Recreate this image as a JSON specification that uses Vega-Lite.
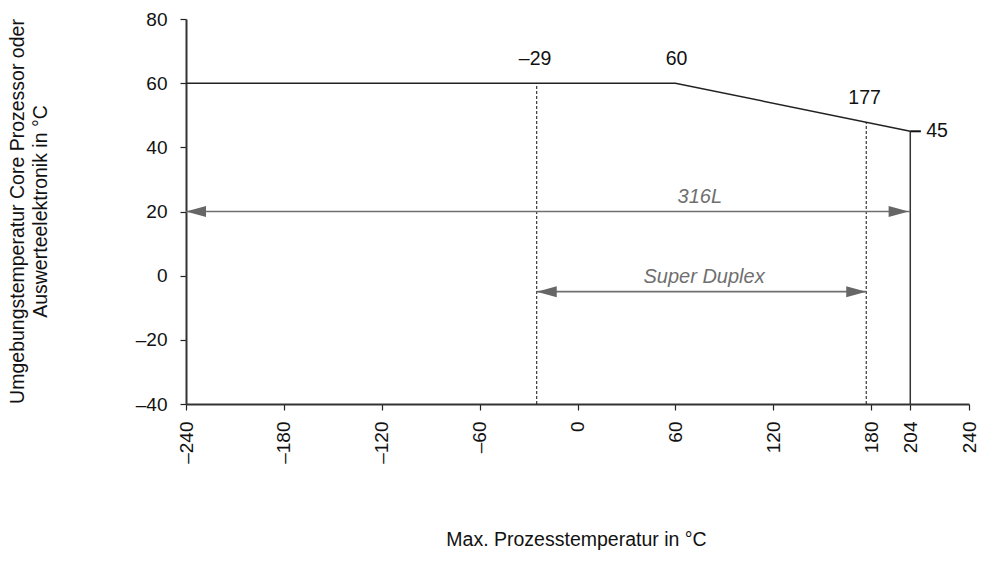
{
  "$schema": "https://vega.github.io/schema/vega-lite/v6.json",
  "width": 783,
  "height": 385,
  "autosize": "none",
  "padding": {"left": 186, "top": 19, "right": 17, "bottom": 172},
  "config": {
    "font": "Liberation Sans",
    "view": {"stroke": null},
    "axis": {
      "grid": false,
      "domainColor": "#333",
      "domainWidth": 2,
      "tickColor": "#222",
      "tickWidth": 1.2,
      "tickSize": 6,
      "labelFontSize": 19,
      "labelColor": "#111",
      "titleFontSize": 19.5,
      "titleFontWeight": "normal",
      "titleColor": "#111",
      "labelFont": "Liberation Sans",
      "titleFont": "Liberation Sans"
    }
  },
  "datasets": {
    "limit": [
      {"x": -240, "y": 60, "o": 1},
      {"x": 60, "y": 60, "o": 2},
      {"x": 204, "y": 45, "o": 3}
    ],
    "verticals": [
      {"x": -25, "y0": -40, "y1": 60, "style": "dashed"},
      {"x": 177, "y0": -40, "y1": 47.8, "style": "dashed"},
      {"x": 204, "y0": -40, "y1": 45, "style": "solid"}
    ],
    "ticks45": [
      {"x": 204, "x2": 210.5, "y": 45}
    ],
    "arrows": [
      {"name": "316L", "x1": -240, "x2": 204, "y": 20, "lx": 75},
      {"name": "Super Duplex", "x1": -25, "x2": 177, "y": -5, "lx": 77.6}
    ],
    "heads": [
      {"x": -240, "y": 20, "dir": "left"},
      {"x": 203, "y": 20, "dir": "right"},
      {"x": -25, "y": -5, "dir": "left"},
      {"x": 177, "y": -5, "dir": "right"}
    ],
    "values": [
      {"label": "–29", "x": -26, "y": 67.4},
      {"label": "60", "x": 60.7, "y": 67.4},
      {"label": "177", "x": 176, "y": 55.5},
      {"label": "45", "x": 220.4, "y": 45}
    ]
  },
  "layer": [
    {
      "data": {"name": "limit"},
      "mark": {"type": "line", "color": "#222", "strokeWidth": 1.5},
      "encoding": {
        "x": {
          "field": "x",
          "type": "quantitative",
          "scale": {"domain": [-240, 240], "nice": false, "zero": false},
          "axis": {
            "values": [-240, -180, -120, -60, 0, 60, 120, 180, 204, 240],
            "labelAngle": -90,
            "labelPadding": 11,
            "labelExpr": "replace(datum.label, '−', '–')",
            "title": "Max. Prozesstemperatur in °C",
            "titleX": 390,
            "titleY": 135,
            "titleBaseline": "middle",
            "titleAlign": "center"
          }
        },
        "y": {
          "field": "y",
          "type": "quantitative",
          "scale": {"domain": [-40, 80], "nice": false, "zero": false},
          "axis": {
            "values": [-40, -20, 0, 20, 40, 60, 80],
            "labelPadding": 13,
            "labelExpr": "replace(datum.label, '−', '–')",
            "title": ["Umgebungstemperatur Core Prozessor oder", "Auswerteelektronik in °C"],
            "titleAngle": -90,
            "titleX": -168.5,
            "titleY": 192,
            "titleAlign": "center",
            "titleBaseline": "middle",
            "titleLineHeight": 23
          }
        },
        "order": {"field": "o", "type": "quantitative"}
      }
    },
    {
      "data": {"name": "verticals"},
      "transform": [{"filter": "datum.style == 'dashed'"}],
      "mark": {"type": "rule", "color": "#111", "strokeWidth": 1, "strokeDash": [3, 2]},
      "encoding": {
        "x": {"field": "x", "type": "quantitative"},
        "y": {"field": "y0", "type": "quantitative"},
        "y2": {"field": "y1"}
      }
    },
    {
      "data": {"name": "verticals"},
      "transform": [{"filter": "datum.style == 'solid'"}],
      "mark": {"type": "rule", "color": "#333", "strokeWidth": 1.5},
      "encoding": {
        "x": {"field": "x", "type": "quantitative"},
        "y": {"field": "y0", "type": "quantitative"},
        "y2": {"field": "y1"}
      }
    },
    {
      "data": {"name": "ticks45"},
      "mark": {"type": "rule", "color": "#111", "strokeWidth": 2},
      "encoding": {
        "x": {"field": "x", "type": "quantitative"},
        "x2": {"field": "x2"},
        "y": {"field": "y", "type": "quantitative"}
      }
    },
    {
      "data": {"name": "arrows"},
      "mark": {"type": "rule", "color": "#6f6f6f", "strokeWidth": 1.7},
      "encoding": {
        "x": {"field": "x1", "type": "quantitative"},
        "x2": {"field": "x2"},
        "y": {"field": "y", "type": "quantitative"}
      }
    },
    {
      "data": {"name": "heads"},
      "mark": {"type": "point", "filled": true, "opacity": 1, "color": "#666", "size": 400, "strokeWidth": 0},
      "encoding": {
        "x": {"field": "x", "type": "quantitative"},
        "y": {"field": "y", "type": "quantitative"},
        "shape": {
          "field": "dir",
          "type": "nominal",
          "scale": {"domain": ["left", "right"], "range": ["M0,0L2,-0.55L2,0.55Z", "M0,0L-2,-0.55L-2,0.55Z"]},
          "legend": null
        }
      }
    },
    {
      "data": {"name": "arrows"},
      "mark": {"type": "text", "color": "#6f6f6f", "fontStyle": "italic", "fontSize": 20, "baseline": "alphabetic", "align": "center", "dy": -9},
      "encoding": {
        "x": {"field": "lx", "type": "quantitative"},
        "y": {"field": "y", "type": "quantitative"},
        "text": {"field": "name"}
      }
    },
    {
      "data": {"name": "values"},
      "mark": {"type": "text", "color": "#111", "fontSize": 19.5, "baseline": "middle", "align": "center"},
      "encoding": {
        "x": {"field": "x", "type": "quantitative"},
        "y": {"field": "y", "type": "quantitative"},
        "text": {"field": "label"}
      }
    }
  ]
}
